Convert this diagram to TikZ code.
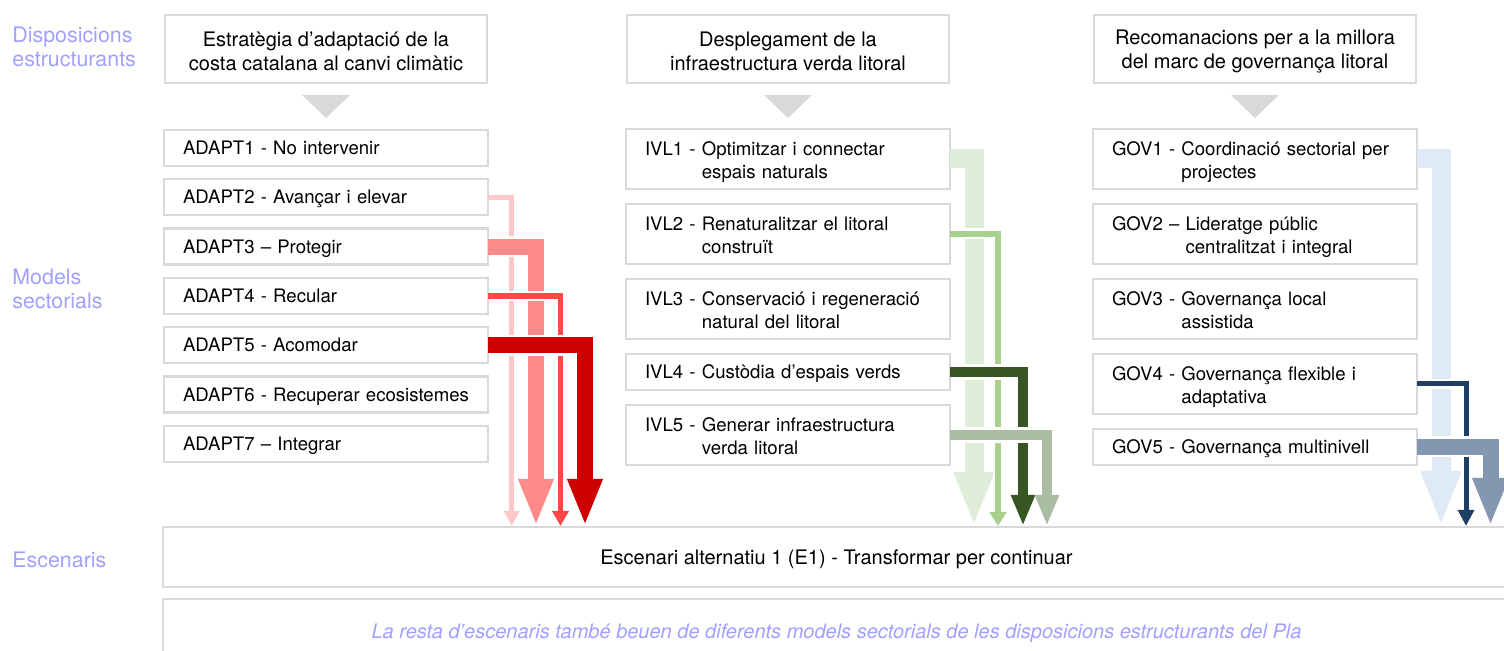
\documentclass[tikz,border=0pt]{standalone}
\usepackage{fontspec}
\setmainfont{TeX Gyre Heros}
\usetikzlibrary{positioning,arrows.meta}

\definecolor{boxgray}{HTML}{D9D9D9}
\definecolor{sidetext}{HTML}{A0A0FF}
\definecolor{adaptA}{HTML}{FFC7C7}
\definecolor{adaptB}{HTML}{FF8A8A}
\definecolor{adaptC}{HTML}{FF4747}
\definecolor{adaptD}{HTML}{CC0000}
\definecolor{ivlA}{HTML}{E0EDD8}
\definecolor{ivlB}{HTML}{A9D18E}
\definecolor{ivlC}{HTML}{375623}
\definecolor{ivlD}{HTML}{AABCA1}
\definecolor{govA}{HTML}{DEEBF7}
\definecolor{govB}{HTML}{1F3E64}
\definecolor{govC}{HTML}{8497B0}

\tikzstyle{box} = [draw=boxgray, line width=1.2pt, outer sep=0pt]
\tikzstyle{head} = [box, minimum width=161pt, minimum height=34pt, align=center, font=\fontsize{10}{12}\selectfont]
\tikzstyle{model} = [box, text width=143pt, inner xsep=9.5pt, minimum height=18pt, align=left, font=\fontsize{9.3}{11.5}\selectfont]
\tikzstyle{single} = [model, text height=8.7pt, text depth=2pt]
\tikzstyle{wide} = [model, minimum height=30pt, inner ysep=1pt]
\tikzstyle{scene} = [box, minimum width=673.5pt, text height=10pt, text depth=2pt, font=\fontsize{10}{12}\selectfont]
\tikzstyle{side} = [text=sidetext, anchor=west, inner sep=0pt, align=left, font=\fontsize{10.7}{12}\selectfont]

% two-line label with hanging second line
\newcommand{\twol}[3]{\begin{tabular}{@{}l@{\ }l@{}}\rule{0pt}{11.5pt}#1 & #2\\ & #3\end{tabular}}
% elbow flow: white gap first, then the coloured arrow
\newcommand{\flow}[6]{%
  \draw[white, line width=#4+2.5pt, shorten <=2pt, shorten >=#6] (#1.east) -| (#2);
  \draw[#3, line width=#4, -{Triangle[width=#5,length=#6]}] (#1.east) -| (#2);}

\begin{document}
\begin{tikzpicture}[x=0.5pt, y=-0.5pt, node distance=7.5pt]
    \useasboundingbox (0,0) rectangle (1504,651);

    \node[side] (lab1) at (12,47) {Disposicions\\estructurants};
    \node[side] (lab2) at (12,289) {Models\\sectorials};
    \node[side] (lab3) at (12,560) {Escenaris};

    \node[head, anchor=north west] (est) at (165,15) {\rule{0pt}{9.5pt}Estratègia d’adaptació de la\\costa catalana al canvi climàtic};
    \node[head, right=70pt of est] (ivl) {\rule{0pt}{9.5pt}Desplegament de la\\infraestructura verda litoral};
    \node[head, right=72.5pt of ivl] (gov) {\rule{0pt}{9.5pt}Recomanacions per a la millora\\del marc de governança litoral};

    \fill[boxgray] ([yshift=-6pt]est.south) ++(-12pt,0) -- ++(24pt,0) -- ++(-12pt,-11.5pt) -- cycle;
    \fill[boxgray] ([yshift=-6pt]ivl.south) ++(-12pt,0) -- ++(24pt,0) -- ++(-12pt,-11.5pt) -- cycle;
    \fill[boxgray] ([yshift=-6pt]gov.south) ++(-12pt,0) -- ++(24pt,0) -- ++(-12pt,-11.5pt) -- cycle;

    \node[single, below=23.5pt of est] (adapt1) {ADAPT1 - No intervenir};
    \node[single, below=6.65pt of adapt1] (adapt2) {ADAPT2 - Avançar i elevar};
    \node[single, below=6.65pt of adapt2] (adapt3) {ADAPT3 – Protegir};
    \node[single, below=6.65pt of adapt3] (adapt4) {ADAPT4 - Recular};
    \node[single, below=6.65pt of adapt4] (adapt5) {ADAPT5 - Acomodar};
    \node[single, below=6.65pt of adapt5] (adapt6) {ADAPT6 - Recuperar ecosistemes};
    \node[single, below=6.65pt of adapt6] (adapt7) {ADAPT7 – Integrar};

    \node[wide, below=23pt of ivl] (ivl1) {\twol{IVL1 -}{Optimitzar i connectar}{espais naturals}};
    \node[wide, below=of ivl1] (ivl2) {\twol{IVL2 -}{Renaturalitzar el litoral}{construït}};
    \node[wide, below=of ivl2] (ivl3) {\twol{IVL3 -}{Conservació i regeneració}{natural del litoral}};
    \node[single, below=of ivl3] (ivl4) {IVL4 - Custòdia d’espais verds};
    \node[wide, below=of ivl4] (ivl5) {\twol{IVL5 -}{Generar infraestructura}{verda litoral}};

    \node[wide, below=23pt of gov] (gov1) {\twol{GOV1 -}{Coordinació sectorial per}{projectes}};
    \node[wide, below=of gov1] (gov2) {\twol{GOV2 –}{Lideratge públic}{centralitzat i integral}};
    \node[wide, below=of gov2] (gov3) {\twol{GOV3 -}{Governança local}{assistida}};
    \node[wide, below=of gov3] (gov4) {\twol{GOV4 -}{Governança flexible i}{adaptativa}};
    \node[single, below=of gov4] (gov5) {GOV5 - Governança multinivell};

    \node[scene, anchor=north west, minimum height=30pt] (scen) at (163,527) {Escenari alternatiu 1 (E1) - Transformar per continuar};
    \node[scene, below=6pt of scen, minimum height=31pt, text=sidetext, font=\itshape] (rest) {La resta d’escenaris també beuen de diferents models sectorials de les disposicions estructurants del Pla};

    \coordinate (a2) at (511.7,526);
    \coordinate (a3) at (536,526);
    \coordinate (a4) at (560.5,526);
    \coordinate (a5) at (585,526);
    \coordinate (v1) at (974,526);
    \coordinate (v2) at (998,526);
    \coordinate (v4) at (1023,526);
    \coordinate (v5) at (1047,526);
    \coordinate (g1) at (1441,526);
    \coordinate (g4) at (1466,526);
    \coordinate (g5) at (1490.5,526);

    \flow{adapt2}{a2}{adaptA}{2.5pt}{7.5pt}{7.5pt}
    \flow{adapt3}{a3}{adaptB}{8pt}{16pt}{23.5pt}
    \flow{adapt4}{a4}{adaptC}{2.75pt}{8pt}{7.5pt}
    \flow{adapt5}{a5}{adaptD}{8pt}{16pt}{23.5pt}
    \flow{ivl1}{v1}{ivlA}{9.5pt}{18.5pt}{27pt}
    \flow{ivl2}{v2}{ivlB}{3pt}{8.3pt}{7pt}
    \flow{ivl4}{v4}{ivlC}{5.3pt}{11pt}{15.5pt}
    \flow{ivl5}{v5}{ivlD}{5.3pt}{11pt}{15.5pt}
    \flow{gov1}{g1}{govA}{9.5pt}{18.5pt}{27.5pt}
    \flow{gov4}{g4}{govB}{2.5pt}{7.8pt}{8pt}
    \flow{gov5}{g5}{govC}{8pt}{16.5pt}{24pt}
\end{tikzpicture}
\end{document}
